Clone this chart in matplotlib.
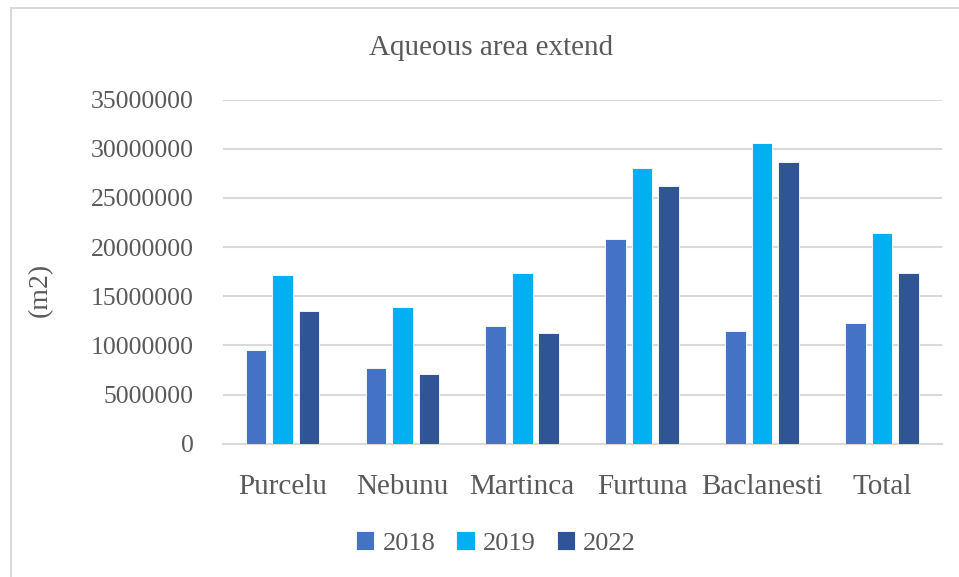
import numpy as np
import matplotlib
matplotlib.use("Agg")
import matplotlib.pyplot as plt
from matplotlib.patches import Rectangle

# ---------------------------------------------------------------------------
# Data (m2)
# ---------------------------------------------------------------------------
categories = ["Purcelu", "Nebunu", "Martinca", "Furtuna", "Baclanesti", "Total"]
years = ["2018", "2019", "2022"]
area_2018 = [9530000, 7670000, 11940000, 20830000, 11470000, 12250000]
area_2019 = [17160000, 13870000, 17370000, 28020000, 30560000, 21400000]
area_2022 = [13470000, 7120000, 11260000, 26190000, 28630000, 17370000]
y_ticks = [0, 5000000, 10000000, 15000000, 20000000, 25000000, 30000000, 35000000]

COLORS = ["#4472C4", "#00B0F0", "#2F5597"]
TEXT = "#595959"
GRID = "#D9D9D9"

plt.rcParams["font.family"] = ["Liberation Serif", "DejaVu Serif"]

fig = plt.figure(figsize=(9.59, 5.77), dpi=100)
ax = fig.add_axes([0.2322, 0.231, 0.7498, 0.5962])

x = np.arange(len(categories))
width = 0.172
step = 0.221
for i, (vals, yr) in enumerate(zip([area_2018, area_2019, area_2022], years)):
    ax.bar(x + (i - 1) * step, vals, width, color=COLORS[i], label=yr,
           edgecolor="white", linewidth=0.6, zorder=3)

ax.set_xlim(-0.5, len(categories) - 0.5)
ax.set_ylim(0, 35000000)
ax.set_yticks(y_ticks)
ax.set_yticklabels([str(v) for v in y_ticks])
ax.set_xticks(x)
ax.set_xticklabels(categories)
ax.grid(axis="y", color=GRID, linewidth=1.5, zorder=0)
for s in ["top", "right", "left"]:
    ax.spines[s].set_visible(False)
ax.spines["bottom"].set_color(GRID)
ax.spines["bottom"].set_linewidth(1.5)
ax.tick_params(axis="y", length=0, pad=21, labelsize=18.5, labelcolor=TEXT)
ax.tick_params(axis="x", length=0, pad=22, labelsize=21, labelcolor=TEXT)

fig.text(40 / 959, 1 - 290 / 577, "(m2)", rotation=90, ha="center", va="center",
         fontsize=20, color=TEXT)
fig.text(491 / 959, 1 - 48 / 577, "Aqueous area extend", ha="center", va="center",
         fontsize=21, color=TEXT)

leg = fig.legend(loc="center", bbox_to_anchor=(496 / 959, 1 - 543 / 577), ncol=3,
                 frameon=False, fontsize=19, handlelength=0.7, handleheight=0.7,
                 handletextpad=0.3, columnspacing=0.8)
for t in leg.get_texts():
    t.set_color(TEXT)

# chart area border (only top and left visible in the crop)
fig.patches.append(Rectangle((11 / 959, -0.1), 1.2, 1.1 - 8 / 577, transform=fig.transFigure,
                             fill=False, edgecolor=GRID, linewidth=1.5))

fig.savefig("out.png", dpi=100)
